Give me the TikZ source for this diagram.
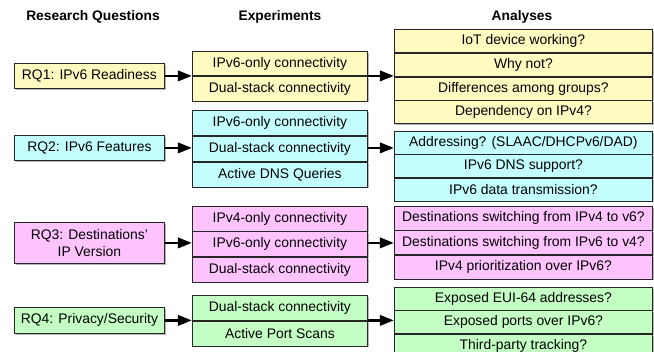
\documentclass[tikz,border=0pt]{standalone}
\usepackage{fontspec}
\setmainfont{Liberation Sans}
\usetikzlibrary{arrows.meta,fit,shadows}
\definecolor{cy}{HTML}{FFFBC0}
\definecolor{cc}{HTML}{C4FFFF}
\definecolor{cp}{HTML}{FFC4FF}
\definecolor{cg}{HTML}{C4FFC4}
\tikzset{
  cell/.style={draw=black!85, line width=0.8pt, anchor=north west, inner sep=0pt,
    align=center, font=\fontsize{13.9}{16.5}\selectfont,
    drop shadow={shadow xshift=1.3pt, shadow yshift=-1.3pt, fill=black!40, opacity=0.7}},
  expcell/.style={cell, minimum width=175pt},
  anacell/.style={cell, minimum width=258pt},
  rqcell/.style={cell, minimum width=150pt},
  head/.style={font=\fontsize{13.8}{16}\selectfont\bfseries},
  grp/.style={inner sep=0pt},
  conn/.style={line width=2.4pt, -{Triangle[length=14pt,width=10.5pt]}},
}
\begin{document}
\begin{tikzpicture}[x=1pt,y=-1pt]
\clip (0,0) rectangle (654,352);
\fill[white] (0,0) rectangle (654,352);
% headers
\node[head] (h1) at (93,17) {Research Questions};
\node[head] (h2) at (280,17) {Experiments};
\node[head] (h3) at (522,17) {Analyses};

% RQ1
\node[rqcell, fill=cy, minimum height=25pt] (rq1) at (14,63) {RQ1: IPv6 Readiness};
\node[expcell, fill=cy, minimum height=24.5pt] (e1a) at (192,51) {IPv6-only connectivity};
\node[expcell, fill=cy, minimum height=24.5pt] (e1b) at (e1a.south west) {Dual-stack connectivity};
\node[grp, fit=(e1a)(e1b)] (exp1) {};
\node[anacell, fill=cy, minimum height=23pt] (a1a) at (394,29) {IoT device working?};
\node[anacell, fill=cy, minimum height=23pt] (a1b) at (a1a.south west) {Why not?};
\node[anacell, fill=cy, minimum height=23pt] (a1c) at (a1b.south west) {Differences among groups?};
\node[anacell, fill=cy, minimum height=23pt] (a1d) at (a1c.south west) {Dependency on IPv4?};
\node[grp, fit=(a1a)(a1d)] (ana1) {};

% RQ2
\node[rqcell, fill=cc, minimum height=25pt] (rq2) at (14,135) {RQ2: IPv6 Features};
\node[expcell, fill=cc, minimum height=25pt] (e2a) at (192,110) {IPv6-only connectivity};
\node[expcell, fill=cc, minimum height=25pt] (e2b) at (e2a.south west) {Dual-stack connectivity};
\node[expcell, fill=cc, minimum height=25pt] (e2c) at (e2b.south west) {Active DNS Queries};
\node[grp, fit=(e2a)(e2c)] (exp2) {};
\node[anacell, fill=cc, minimum height=22.7pt] (a2a) at (394,131) {Addressing? (SLAAC/DHCPv6/DAD)};
\node[anacell, fill=cc, minimum height=22.7pt] (a2b) at (a2a.south west) {IPv6 DNS support?};
\node[anacell, fill=cc, minimum height=22.7pt] (a2c) at (a2b.south west) {IPv6 data transmission?};
\node[grp, fit=(a2a)(a2c)] (ana2) {};

% RQ3
\node[rqcell, fill=cp, minimum height=41pt] (rq3) at (14,222) {RQ3: Destinations’\\IP Version};
\node[expcell, fill=cp, minimum height=24.7pt] (e3a) at (192,206) {IPv4-only connectivity};
\node[expcell, fill=cp, minimum height=24.7pt] (e3b) at (e3a.south west) {IPv6-only connectivity};
\node[expcell, fill=cp, minimum height=24.7pt] (e3c) at (e3b.south west) {Dual-stack connectivity};
\node[grp, fit=(e3a)(e3c)] (exp3) {};
\node[anacell, fill=cp, minimum height=23.7pt] (a3a) at (394,206) {Destinations switching from IPv4 to v6?};
\node[anacell, fill=cp, minimum height=23.7pt] (a3b) at (a3a.south west) {Destinations switching from IPv6 to v4?};
\node[anacell, fill=cp, minimum height=23.7pt] (a3c) at (a3b.south west) {IPv4 prioritization over IPv6?};
\node[grp, fit=(a3a)(a3c)] (ana3) {};

% RQ4
\node[rqcell, fill=cg, minimum height=26pt] (rq4) at (14,307) {RQ4: Privacy/Security};
\node[expcell, fill=cg, minimum height=25pt] (e4a) at (192,295) {Dual-stack connectivity};
\node[expcell, fill=cg, minimum height=25pt] (e4b) at (e4a.south west) {Active Port Scans};
\node[grp, fit=(e4a)(e4b)] (exp4) {};
\node[anacell, fill=cg, minimum height=22.7pt] (a4a) at (394,287) {Exposed EUI-64 addresses?};
\node[anacell, fill=cg, minimum height=22.7pt] (a4b) at (a4a.south west) {Exposed ports over IPv6?};
\node[anacell, fill=cg, minimum height=22.7pt] (a4c) at (a4b.south west) {Third-party tracking?};
\node[grp, fit=(a4a)(a4c)] (ana4) {};

% connectors
\draw[conn] (rq1.east) -- (rq1.east -| exp1.west);
\draw[conn] (exp1.east |- rq1.east) -- (ana1.west |- rq1.east);
\draw[conn] (rq2.east) -- (rq2.east -| exp2.west);
\draw[conn] (exp2.east |- rq2.east) -- (ana2.west |- rq2.east);
\draw[conn] (rq3.east) -- (rq3.east -| exp3.west);
\draw[conn] (exp3.east |- rq3.east) -- (ana3.west |- rq3.east);
\draw[conn] (rq4.east) -- (rq4.east -| exp4.west);
\draw[conn] (exp4.east |- rq4.east) -- (ana4.west |- rq4.east);
\end{tikzpicture}
\end{document}
